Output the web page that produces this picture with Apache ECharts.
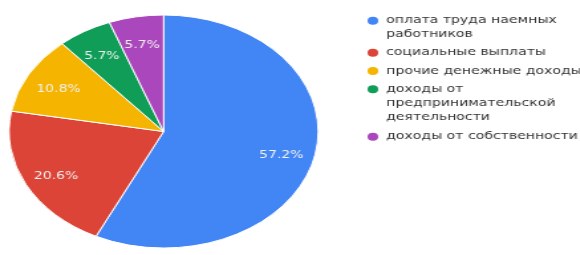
<!DOCTYPE html>
<html>
<head>
<meta charset="utf-8">
<script src="https://cdn.jsdelivr.net/npm/echarts@6/dist/echarts.min.js"></script>
<style>
    html, body { margin: 0; padding: 0; background: #fff; overflow: hidden; }
    /* the source picture is a horizontally stretched screenshot */
    #chart {
        width: 437px;
        height: 255px;
        transform: scaleX(1.327);
        transform-origin: 0 0;
    }
</style>
</head>
<body>
<div id="chart"></div>
<script>
const categories = [
    'оплата труда наемных работников',
    'социальные выплаты',
    'прочие денежные доходы',
    'доходы от предпринимательской деятельности',
    'доходы от собственности'
];
const shares = [57.2, 20.6, 10.8, 5.7, 5.7];
// legend text as it wraps in the picture
const legendLabels = [
    ['оплата труда наемных', 'работников'],
    ['социальные выплаты'],
    ['прочие денежные доходы'],
    ['доходы от', 'предпринимательской', 'деятельности'],
    ['доходы от собственности']
];
const colors = ['#4285f4', '#db4437', '#f4b400', '#0f9d58', '#ab47bc'];

const font = 'DejaVu Sans';
const lineH = 14;
const legendFirstLine = [20.7, 52.7, 71, 89.3, 136.7];

const myChart = echarts.init(document.getElementById('chart'));

const pieData = categories.map((name, i) => ({ name: name, value: shares[i] }));

// one legend per item so the dot sits on the first text line, like the source
const legends = categories.map((name, i) => {
    const lines = legendLabels[i];
    const n = lines.length;
    // empty lines on top keep the first line level with the dot
    const text = new Array(n - 1).fill(' ').concat(lines).join('\n');
    return {
        data: [name],
        orient: 'vertical',
        left: 275,
        top: legendFirstLine[i] - (2 * n - 1) * lineH / 2,
        padding: 0,
        icon: 'circle',
        itemWidth: 10,
        itemHeight: 10,
        selectedMode: false,
        formatter: () => text,
        textStyle: {
            fontFamily: font,
            fontSize: 10.6,
            lineHeight: lineH,
            color: '#333'
        }
    };
});

const option = {
    color: colors,
    animation: false,
    legend: legends,
    series: [
        {
            type: 'pie',
            center: [123.3, 131.5],
            radius: [0, 116.5],
            startAngle: 90,
            clockwise: true,
            label: { show: false },
            labelLine: { show: false },
            itemStyle: { borderColor: '#fff', borderWidth: 1 },
            emphasis: { disabled: true },
            data: pieData
        },
        {
            // transparent ring, only there to put the labels further out
            type: 'pie',
            silent: true,
            center: [123.3, 131.5],
            radius: [59.5, 116.5],
            startAngle: 90,
            clockwise: true,
            avoidLabelOverlap: false,
            itemStyle: { color: 'transparent' },
            label: {
                show: true,
                position: 'inside',
                fontFamily: font,
                fontSize: 10.5,
                color: '#f2f2f2',
                offset: [0, 3],
                formatter: (p) => p.value.toFixed(1) + '%'
            },
            labelLine: { show: false },
            data: pieData
        }
    ]
};

myChart.setOption(option);
</script>
</body>
</html>
